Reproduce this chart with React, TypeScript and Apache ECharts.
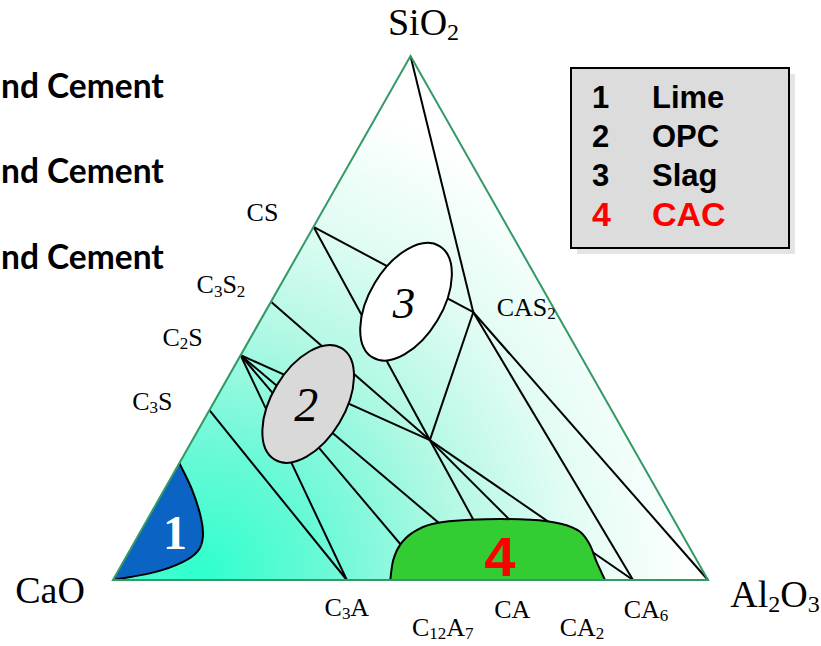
import { useEffect, useRef } from "react";
import * as echarts from "echarts";

// Compositions are [CaO, Al2O3, SiO2] in %
type Tern = [number, number, number];

const SERIF = "'Liberation Serif', 'Times New Roman', serif";
const SANS = "'Liberation Sans', Arial, sans-serif";

// Oxide end members
const vertexNames = ["CaO", "Al2O3", "SiO2"];
const vertexComps: Tern[] = [
  [100, 0, 0],
  [0, 100, 0],
  [0, 0, 100],
];

// Binary and ternary compounds
const phaseNames = ["C3S", "C2S", "C3S2", "CS", "C3A", "C12A7", "CA", "CA2", "CA6", "CAS2", "C2AS"];
const phaseComps: Tern[] = [
  [67.6, 0, 32.4],
  [57.1, 0, 42.9],
  [46.9, 0, 53.1],
  [32.6, 0, 67.4],
  [60.7, 39.3, 0],
  [46.6, 53.4, 0],
  [33.9, 66.1, 0],
  [23.2, 76.8, 0],
  [12.6, 87.4, 0],
  [13.9, 35.0, 51.1],
  [33.4, 39.9, 26.7],
];
const labelledPhases = ["CS", "C3S2", "C2S", "C3S", "C3A", "C12A7", "CA", "CA2", "CA6", "CAS2"];

// Compatibility (tie) lines between phases
const tieLines: [string, string][] = [
  ["SiO2", "CAS2"],
  ["CS", "CAS2"],
  ["CS", "C2AS"],
  ["C3S2", "C2AS"],
  ["C2S", "C2AS"],
  ["CAS2", "C2AS"],
  ["C3S", "C3A"],
  ["C2S", "C3A"],
  ["C2S", "C12A7"],
  ["C2S", "CA"],
  ["C2AS", "CA"],
  ["C2AS", "CA2"],
  ["C2AS", "CA6"],
  ["CAS2", "CA6"],
  ["CAS2", "Al2O3"],
];

// Lime field (1): from the CaO–SiO2 edge round to CaO
const limeBoundary: Tern[] = [
  [77.7, 0, 22.3],
  [78.1, 4.7, 17.2],
  [79.3, 8.9, 11.8],
  [80.8, 11.0, 8.2],
  [83.0, 11.5, 5.5],
  [86.5, 10.0, 3.4],
  [92.2, 6.3, 1.5],
  [100, 0, 0],
];

// Calcium aluminate cement field (4), resting on the CaO–Al2O3 edge
const cacBoundary: Tern[] = [
  [53.4, 46.6, 0],
  [51.0, 45.2, 3.8],
  [48.4, 44.9, 6.7],
  [45.3, 45.8, 9.0],
  [41.0, 48.3, 10.7],
  [34.3, 54.3, 11.5],
  [24.2, 64.4, 11.5],
  [19.2, 70.1, 10.7],
  [16.9, 73.9, 9.2],
  [16.5, 76.8, 6.7],
  [16.9, 79.6, 3.4],
  [17.3, 82.7, 0],
];

// OPC (2) and slag (3) fields
const ellipseFields = ["2", "3"];
const ellipseCentres: Tern[] = [
  [50.4, 16.0, 33.6],
  [24.2, 22.7, 53.1],
];

// Number marks of the lime and CAC fields
const fieldMarks = ["1", "4"];
const fieldMarkComps: Tern[] = [
  [85.1, 5.9, 9.0],
  [32.8, 62.8, 4.4],
];

const legendNumbers = ["1", "2", "3", "4"];
const legendNames = ["Lime", "OPC", "Slag", "CAC"];
const sideTexts = ["nd Cement", "nd Cement", "nd Cement"];

// Label placement relative to each point, in pixels
const labelOffsets: Record<string, [number, number]> = {
  CaO: [-63, 10],
  Al2O3: [67, 14],
  SiO2: [13, -34],
  CS: [-51, -14],
  C3S2: [-50, -17],
  C2S: [-58, -18],
  C3S: [-57, -9],
  C3A: [0, 27],
  C12A7: [12, 47],
  CA: [6, 29],
  CA2: [12, 47],
  CA6: [13, 29],
  CAS2: [53, -5],
};

const compOf = (name: string): Tern => {
  const v = vertexNames.indexOf(name);
  if (v >= 0) return vertexComps[v];
  return phaseComps[phaseNames.indexOf(name)];
};

// Ternary → plot plane: x along CaO→Al2O3, y is the SiO2 height
const toXY = (t: Tern): [number, number] => [t[1] + t[2] / 2, t[2]];

const richName = (name: string, big: boolean) =>
  name.replace(/([A-Za-z]+)|(\d+)/g, (m, letters) =>
    letters ? `{${big ? "M" : "m"}|${m}}` : `{${big ? "S" : "s"}|${m}}`
  );

// Smooth curve through points (Catmull-Rom as cubic Béziers)
const smoothPath = (pts: number[][]) => {
  let d = `M${pts[0][0]},${pts[0][1]}`;
  for (let i = 0; i < pts.length - 1; i++) {
    const p0 = pts[i - 1] || pts[i];
    const p1 = pts[i];
    const p2 = pts[i + 1];
    const p3 = pts[i + 2] || p2;
    const c1 = [p1[0] + (p2[0] - p0[0]) / 6, p1[1] + (p2[1] - p0[1]) / 6];
    const c2 = [p2[0] - (p3[0] - p1[0]) / 6, p2[1] - (p3[1] - p1[1]) / 6];
    d += ` C${c1[0]},${c1[1]} ${c2[0]},${c2[1]} ${p2[0]},${p2[1]}`;
  }
  return d;
};

const regionSeries = (boundary: Tern[], fill: string, z: number) => ({
  type: "custom",
  coordinateSystem: "cartesian2d",
  silent: true,
  z,
  data: [toXY(boundary[0])],
  renderItem: (_p: any, api: any) => {
    const pts = boundary.map((t) => api.coord(toXY(t)));
    const curve = smoothPath(pts);
    return {
      type: "group",
      children: [
        { type: "path", shape: { pathData: curve + " Z" }, style: { fill, stroke: "none" } },
        { type: "path", shape: { pathData: curve }, style: { fill: "none", stroke: "#000", lineWidth: 2 } },
      ],
    };
  },
});

export default function App() {
  const ref = useRef<HTMLDivElement>(null);

  useEffect(() => {
    if (!ref.current) return;
    const chart = echarts.init(ref.current, undefined, { renderer: "svg" });

    const triangle = {
      type: "custom",
      coordinateSystem: "cartesian2d",
      silent: true,
      z: 1,
      data: [toXY(vertexComps[0])],
      renderItem: (_p: any, api: any) => {
        const pts = vertexComps.map((t) => api.coord(toXY(t)));
        const c = pts[0];
        return {
          type: "polygon",
          shape: { points: pts },
          style: {
            fill: new echarts.graphic.RadialGradient(
              c[0] + 87,
              c[1] - 5,
              500,
              [
                { offset: 0, color: "#2effcc" },
                { offset: 0.25, color: "#6af9d7" },
                { offset: 0.5, color: "#b0f8e4" },
                { offset: 0.75, color: "#e2fcf4" },
                { offset: 1, color: "#ffffff" },
              ],
              true
            ),
          },
        };
      },
    };

    const border = {
      type: "custom",
      coordinateSystem: "cartesian2d",
      silent: true,
      z: 6,
      data: [toXY(vertexComps[0])],
      renderItem: (_p: any, api: any) => ({
        type: "polygon",
        shape: { points: vertexComps.map((t) => api.coord(toXY(t))) },
        style: { fill: "none", stroke: "#339966", lineWidth: 2 },
      }),
    };

    const ties = {
      type: "custom",
      coordinateSystem: "cartesian2d",
      silent: true,
      z: 2,
      encode: { x: [0, 2], y: [1, 3] },
      data: tieLines.map(([a, b]) => [...toXY(compOf(a)), ...toXY(compOf(b))]),
      renderItem: (_p: any, api: any) => {
        const p1 = api.coord([api.value(0), api.value(1)]);
        const p2 = api.coord([api.value(2), api.value(3)]);
        return {
          type: "line",
          shape: { x1: p1[0], y1: p1[1], x2: p2[0], y2: p2[1] },
          style: { stroke: "#000", lineWidth: 2 },
        };
      },
    };

    const ellipses = {
      type: "custom",
      coordinateSystem: "cartesian2d",
      silent: true,
      z: 3,
      data: ellipseCentres.map((t, i) => ({ name: ellipseFields[i], value: toXY(t) })),
      renderItem: (params: any, api: any) => {
        const c = api.coord([api.value(0), api.value(1)]);
        const i = params.dataIndex;
        return {
          type: "group",
          children: [
            {
              type: "ellipse",
              x: c[0],
              y: c[1],
              rotation: (-31 * Math.PI) / 180,
              shape: { cx: 0, cy: 0, rx: 36.5, ry: 65 },
              style: { fill: i === 0 ? "#d9d9d9" : "#ffffff", stroke: "#000", lineWidth: 2 },
            },
            {
              type: "text",
              x: c[0] - 2,
              y: c[1] + 1,
              style: {
                text: ellipseFields[i],
                fontFamily: SERIF,
                fontStyle: "italic",
                fontSize: i === 0 ? 48 : 45,
                fill: "#000",
                align: "center",
                verticalAlign: "middle",
              },
            },
          ],
        };
      },
    };

    const labels = {
      type: "scatter",
      z: 7,
      silent: true,
      symbolSize: 0,
      itemStyle: { color: "rgba(0,0,0,0)", opacity: 1 },
      data: [...vertexNames, ...labelledPhases].map((n) => ({
        name: n,
        value: toXY(compOf(n)),
        label: { offset: labelOffsets[n] },
      })),
      label: {
        show: true,
        position: "inside",
        opacity: 1,
        formatter: (p: any) => richName(p.name, vertexNames.includes(p.name)),
        rich: {
          m: { fontFamily: SERIF, fontSize: 26, lineHeight: 30, color: "#000" },
          s: { fontFamily: SERIF, fontSize: 17, lineHeight: 14, verticalAlign: "bottom", color: "#000" },
          M: { fontFamily: SERIF, fontSize: 38, lineHeight: 44, color: "#000" },
          S: { fontFamily: SERIF, fontSize: 24, lineHeight: 18, verticalAlign: "bottom", color: "#000" },
        },
      },
    };

    const marks = {
      type: "scatter",
      z: 8,
      silent: true,
      symbolSize: 0,
      itemStyle: { color: "rgba(0,0,0,0)", opacity: 1 },
      data: fieldMarks.map((n, i) => ({
        name: n,
        value: toXY(fieldMarkComps[i]),
        label:
          i === 0
            ? { color: "#ffffff", fontFamily: SERIF, fontWeight: "bold", fontSize: 48 }
            : { color: "#ff0000", fontFamily: SANS, fontWeight: "bold", fontSize: 56 },
      })),
      label: { show: true, position: "inside", opacity: 1, formatter: "{b}" },
    };

    const rowY = [97, 136, 175, 214];
    const legendTexts: any[] = [];
    legendNumbers.forEach((n, i) => {
      const color = i === 3 ? "#ff0000" : "#000000";
      const size = i === 3 ? 34 : 31;
      legendTexts.push({
        type: "text",
        x: 592,
        y: rowY[i],
        z: 12,
        style: { text: n, font: `bold ${size}px ${SANS}`, fill: color, align: "left", verticalAlign: "middle", textAlign: "left", textVerticalAlign: "middle" },
      });
      legendTexts.push({
        type: "text",
        x: 652,
        y: rowY[i],
        z: 12,
        style: { text: legendNames[i], font: `bold ${size}px ${SANS}`, fill: color, align: "left", verticalAlign: "middle", textAlign: "left", textVerticalAlign: "middle" },
      });
    });

    const sideY = [85, 170, 256];

    chart.setOption({
      animation: false,
      grid: { left: 113, right: 113, top: 56, bottom: 66 },
      xAxis: { type: "value", min: 0, max: 100, show: false },
      yAxis: { type: "value", min: 0, max: 100, show: false },
      series: [
        triangle,
        ties,
        ellipses,
        regionSeries(limeBoundary, "#0b63c3", 4),
        regionSeries(cacBoundary, "#33cc33", 5),
        border,
        labels,
        marks,
      ],
      graphic: [
        ...sideTexts.map((t, i) => ({
          type: "text",
          x: 1,
          y: sideY[i],
          style: { text: t, font: "bold 33.5px Lato", fill: "#000", align: "left", verticalAlign: "middle", textAlign: "left", textVerticalAlign: "middle" },
        })),
        { type: "rect", x: 577, y: 74, z: 10, shape: { width: 218, height: 180 }, style: { fill: "#e4e4e4" } },
        { type: "rect", x: 571, y: 68, z: 11, shape: { width: 218, height: 180 }, style: { fill: "#dcdcdc", stroke: "#000", lineWidth: 2 } },
        ...legendTexts,
      ],
    });

    return () => chart.dispose();
  }, []);

  return <div ref={ref} style={{ position: "absolute", left: 0, top: 0, width: 821, height: 646 }} />;
}
